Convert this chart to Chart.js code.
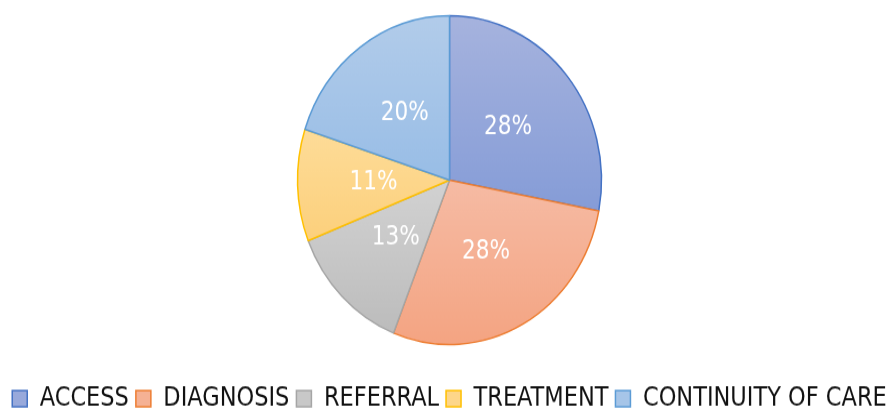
<!DOCTYPE html>
<html>
<head>
<meta charset="utf-8">
<script src="https://cdn.jsdelivr.net/npm/chart.js@4.4.1/dist/chart.umd.min.js"></script>
<style>
  html, body { margin: 0; padding: 0; background: #ffffff; overflow: hidden; width: 894px; height: 410px; }
  #wrap { width: 894px; height: 379px; transform: scaleY(1.0818); transform-origin: 0 0; }
  canvas { display: block; }
</style>
</head>
<body>
<div id="wrap"><canvas id="c" width="894" height="379"></canvas></div>
<script>
const categories = ['ACCESS', 'DIAGNOSIS', 'REFERRAL', 'TREATMENT', 'CONTINUITY OF CARE'];
const values = [28, 28, 13, 11, 20];
const valueLabels = ['28%', '28%', '13%', '11%', '20%'];

const topColors    = ['#A6B3DE', '#F6BBA4', '#D2D2D2', '#FEDC98', '#B2CCEA'];
const bottomColors = ['#859CD7', '#F4A482', '#BCBCBC', '#FCD07C', '#98BDE6'];
const midColors    = ['#98A9DB', '#F5B194', '#C8C8C8', '#FDD68A', '#A6C5E8'];
const borderColors = ['#4472C4', '#ED7D31', '#A5A5A5', '#FFC000', '#5B9BD5'];

const RADIUS = 152;
const FONT = '"DejaVu Sans Condensed", "Liberation Sans Narrow", "Noto Sans", sans-serif';

function sliceGradient(c) {
  const chart = c.chart;
  const area = chart.chartArea;
  const i = c.dataIndex;
  if (!area) return midColors[i];
  const cx = (area.left + area.right) / 2;
  const cy = (area.top + area.bottom) / 2;
  const total = values.reduce((a, b) => a + b, 0);
  let cum = 0;
  for (let k = 0; k < i; k++) cum += values[k];
  const a0 = -Math.PI / 2 + 2 * Math.PI * cum / total;
  const a1 = a0 + 2 * Math.PI * values[i] / total;
  const ys = [cy, cy + RADIUS * Math.sin(a0), cy + RADIUS * Math.sin(a1)];
  for (const k of [-Math.PI / 2, Math.PI / 2, 3 * Math.PI / 2]) {
    if (k >= a0 && k <= a1) ys.push(cy + RADIUS * Math.sin(k));
  }
  const g = chart.ctx.createLinearGradient(0, Math.min(...ys), 0, Math.max(...ys));
  g.addColorStop(0, topColors[i]);
  g.addColorStop(1, bottomColors[i]);
  return g;
}

const labelPlugin = {
  id: 'sliceLabels',
  afterDatasetsDraw(chart) {
    const ctx = chart.ctx;
    const meta = chart.getDatasetMeta(0);
    ctx.save();
    ctx.fillStyle = '#FFFFFF';
    ctx.font = '24px ' + FONT;
    ctx.textAlign = 'center';
    ctx.textBaseline = 'middle';
    meta.data.forEach((arc, i) => {
      const p = arc.tooltipPosition();
      ctx.fillText(valueLabels[i], p.x, p.y);
    });
    ctx.restore();
  }
};

new Chart(document.getElementById('c'), {
  type: 'pie',
  data: {
    labels: categories,
    datasets: [{
      data: values,
      backgroundColor: sliceGradient,
      borderColor: borderColors,
      borderWidth: 1.5,
      radius: RADIUS
    }]
  },
  options: {
    responsive: false,
    animation: false,
    events: [],
    layout: { padding: { left: 5, right: 0, top: 0, bottom: -12 } },
    plugins: {
      tooltip: { enabled: false },
      legend: {
        position: 'bottom',
        title: { display: true, text: '', font: { size: 10, lineHeight: 1.2 }, padding: { top: 0, bottom: 4 } },
        labels: {
          boxWidth: 15,
          boxHeight: 15,
          padding: 7,
          color: '#111111',
          font: { size: 25, family: FONT },
          generateLabels: () => categories.map((c, i) => ({
            text: c,
            fillStyle: midColors[i],
            strokeStyle: borderColors[i],
            lineWidth: 1.5,
            hidden: false,
            index: i,
            fontColor: '#111111'
          }))
        }
      }
    }
  },
  plugins: [labelPlugin]
});
</script>
</body>
</html>
